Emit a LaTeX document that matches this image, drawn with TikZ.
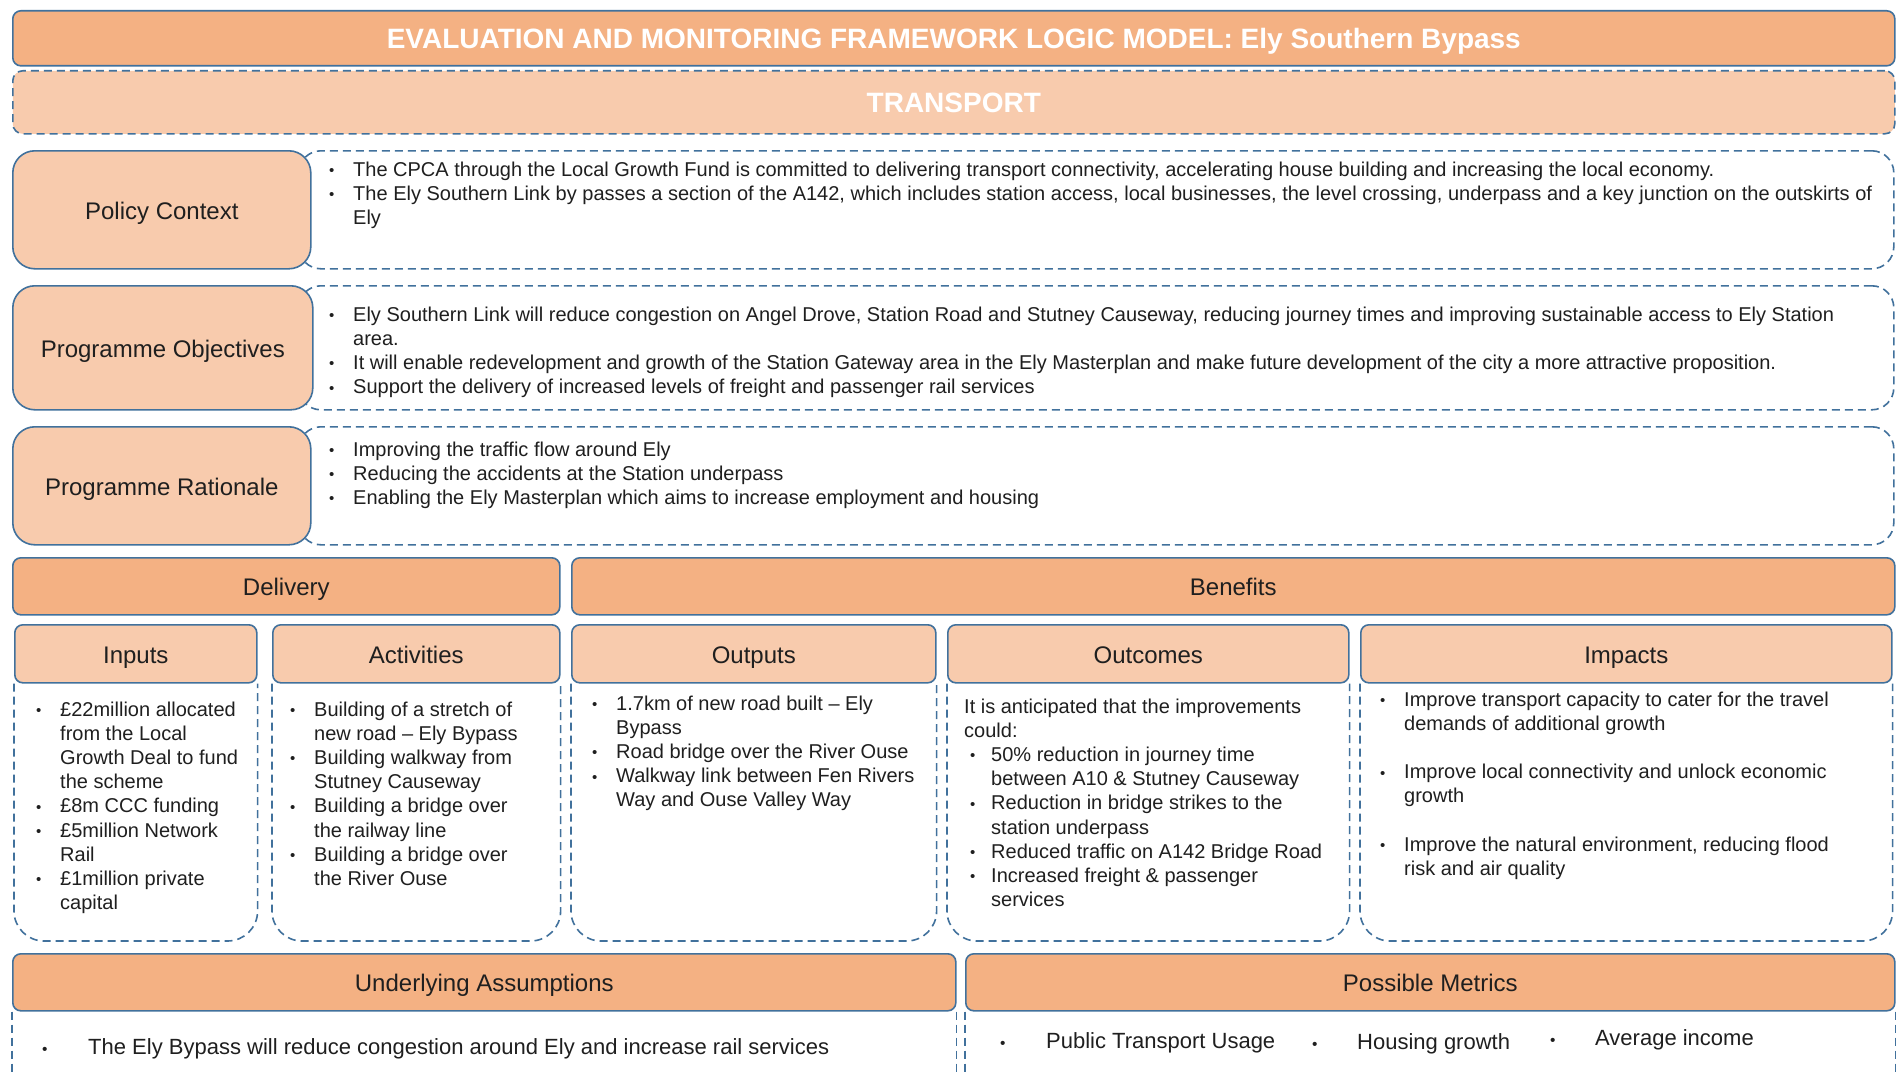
\documentclass[tikz,border=0pt]{standalone}
\usepackage{fontspec}
\usepackage{graphicx}
\setmainfont{Liberation Sans}
\definecolor{hdark}{HTML}{F4B183}
\definecolor{hlight}{HTML}{F8CBAD}
\definecolor{bline}{HTML}{41719C}
\definecolor{ink}{HTML}{1F1F1F}
\newlength\bind
\setlength\bind{24pt}
\newcommand\bul{\makebox[\bind][l]{\raisebox{0.5pt}{\scalebox{0.75}{•}}}}
\newcommand\bl[1]{\noindent\bul#1\par}
\newcommand\blo[1]{\noindent\hspace*{6pt}\makebox[21pt][l]{\raisebox{0.5pt}{\scalebox{0.75}{•}}}#1\par}
\newcommand\clo[1]{\noindent\hspace*{27pt}#1\par}
\newcommand\cl[1]{\noindent\hspace*{\bind}#1\par}
\newcommand\pl[1]{\noindent#1\par}
\newcommand\tb[2]{\parbox[t]{#1}{\fontsize{20}{24.2}\selectfont#2}}
\tikzset{
 solidhd/.style={draw=bline, line width=1.6pt, fill=hdark, rounded corners=8pt, inner sep=0pt, anchor=north west},
 solidlt/.style={draw=bline, line width=1.6pt, fill=hlight, rounded corners=8pt, inner sep=0pt, anchor=north west},
 labelbox/.style={solidlt, rounded corners=22pt},
 dsh/.style={draw=bline, line width=1.6pt, dash pattern=on 8pt off 5pt},
 dashrow/.style={dsh, rounded corners=22pt, inner sep=0pt, anchor=north west},
 hdtext/.style={font=\fontsize{24}{28}\selectfont, text=ink, text height=21pt, text depth=2pt},
 titletext/.style={font=\fontsize{28}{32}\selectfont\bfseries, text=white, text height=24pt, text depth=3pt},
 txt/.style={inner sep=0pt, anchor=base west, text=ink},
 bigtxt/.style={txt, font=\fontsize{22}{26}\selectfont},
}
\begin{document}
\begin{tikzpicture}[x=1pt,y=-1pt]
\useasboundingbox (0,0) rectangle (1896,1073);
\clip (0,0) rectangle (1896,1073);
\fill[white] (0,0) rectangle (1896,1073);

% title and transport
\node[solidhd, minimum width=1882pt, minimum height=55pt, titletext] (title) at (12,10) {EVALUATION AND MONITORING FRAMEWORK LOGIC MODEL: Ely Southern Bypass};
\node[dashrow, fill=hlight, rounded corners=10pt, minimum width=1882pt, minimum height=63pt, titletext] (transport) at (12,70) {TRANSPORT};

% rows
\node[dashrow, minimum width=1595pt, minimum height=118pt] (pcdash) at (298,150) {};
\node[labelbox, minimum width=298pt, minimum height=118pt, hdtext] (pc) at (12,150) {Policy Context};
\node[dashrow, minimum width=1595pt, minimum height=124pt] (podash) at (298,285) {};
\node[labelbox, minimum width=300pt, minimum height=124pt, hdtext] (po) at (12,285) {Programme Objectives};
\node[dashrow, minimum width=1595pt, minimum height=118pt] (prdash) at (298,426) {};
\node[labelbox, minimum width=298pt, minimum height=118pt, hdtext] (pr) at (12,426) {Programme Rationale};

\node[txt] (pctext) at (329,176) {\tb{1560pt}{%
\bl{The CPCA through the Local Growth Fund is committed to delivering transport connectivity, accelerating house building and increasing the local economy.}
\bl{\makebox[1519pt][s]{The Ely Southern Link by passes a section of the A142, which includes station access, local businesses, the level crossing, underpass and a key junction on the outskirts of}}
\cl{Ely}}};

\node[txt] (potext) at (329,321) {\tb{1560pt}{%
\bl{\makebox[1481pt][s]{Ely Southern Link will reduce congestion on Angel Drove, Station Road and Stutney Causeway, reducing journey times and improving sustainable access to Ely Station}}
\cl{area.}
\bl{It will enable redevelopment and growth of the Station Gateway area in the Ely Masterplan and make future development of the city a more attractive proposition.}
\bl{Support the delivery of increased levels of freight and passenger rail services}}};

\node[txt] (prtext) at (329,456) {\tb{1560pt}{%
\bl{Improving the traffic flow around Ely}
\bl{Reducing the accidents at the Station underpass}
\bl{Enabling the Ely Masterplan which aims to increase employment and housing}}};

% delivery / benefits
\node[solidhd, minimum width=547pt, minimum height=57pt, hdtext] (delivery) at (12,557) {Delivery};
\node[solidhd, minimum width=1323pt, minimum height=57pt, hdtext] (benefits) at (571,557) {Benefits};

\node[solidlt, minimum width=242pt, minimum height=58pt, hdtext] (inputs) at (14,624) {Inputs};
\node[solidlt, minimum width=287pt, minimum height=58pt, hdtext] (activities) at (272,624) {Activities};
\node[solidlt, minimum width=364pt, minimum height=58pt, hdtext] (outputs) at (571,624) {Outputs};
\node[solidlt, minimum width=401pt, minimum height=58pt, hdtext] (outcomes) at (947,624) {Outcomes};
\node[solidlt, minimum width=531pt, minimum height=58pt, hdtext] (impacts) at (1360,624) {Impacts};

\foreach \n in {inputs,activities,outputs,outcomes,impacts}{
 \draw[dsh, rounded corners=30pt] (\n.south west) -- (\n.south west |- 0,941) -- (\n.south east |- 0,941) -- (\n.south east);
}

\node[txt] (intext) at (36,716) {\tb{225pt}{%
\bl{£22million allocated}
\cl{from the Local}
\cl{Growth Deal to fund}
\cl{the scheme}
\bl{£8m CCC funding}
\bl{£5million Network}
\cl{Rail}
\bl{£1million private}
\cl{capital}}};

\node[txt] (actext) at (290,716) {\tb{265pt}{%
\bl{Building of a stretch of}
\cl{new road – Ely Bypass}
\bl{Building walkway from}
\cl{Stutney Causeway}
\bl{Building a bridge over}
\cl{the railway line}
\bl{Building a bridge over}
\cl{the River Ouse}}};

\node[txt] (outtext) at (592,710) {\tb{340pt}{%
\bl{1.7km of new road built – Ely}
\cl{Bypass}
\bl{Road bridge over the River Ouse}
\bl{Walkway link between Fen Rivers}
\cl{Way and Ouse Valley Way}}};

\node[txt] (octext) at (964,713) {\tb{380pt}{%
\pl{It is anticipated that the improvements}
\pl{could:}
\blo{50\% reduction in journey time}
\clo{between A10 \& Stutney Causeway}
\blo{Reduction in bridge strikes to the}
\clo{station underpass}
\blo{Reduced traffic on A142 Bridge Road}
\blo{Increased freight \& passenger}
\clo{services}}};

\node[txt] (imtext) at (1380,706) {\tb{505pt}{%
\bl{Improve transport capacity to cater for the travel}
\cl{demands of additional growth}
\pl{\mbox{}}
\bl{Improve local connectivity and unlock economic}
\cl{growth}
\pl{\mbox{}}
\bl{Improve the natural environment, reducing flood}
\cl{risk and air quality}}};

% bottom
\node[solidhd, minimum width=943pt, minimum height=57pt, hdtext] (assump) at (12,953) {Underlying Assumptions};
\node[solidhd, minimum width=929pt, minimum height=57pt, hdtext] (metrics) at (965,953) {Possible Metrics};
\draw[dsh] (assump.south west) -- (assump.south west |- 0,1100);
\draw[dsh] (assump.south east) -- (assump.south east |- 0,1100);
\draw[dsh] (metrics.south west) -- (metrics.south west |- 0,1100);
\draw[dsh] (metrics.south east) -- (metrics.south east |- 0,1100);

\node[bigtxt] (ab) at (42,1054) {\scalebox{0.7}{•}};
\node[bigtxt] (at) at (88,1054) {The Ely Bypass will reduce congestion around Ely and increase rail services};
\node[bigtxt] (mb1) at (1000,1048) {\scalebox{0.7}{•}};
\node[bigtxt] (mt1) at (1046,1048) {Public Transport Usage};
\node[bigtxt] (mb2) at (1312,1049) {\scalebox{0.7}{•}};
\node[bigtxt] (mt2) at (1357,1049) {Housing growth};
\node[bigtxt] (mb3) at (1550,1045) {\scalebox{0.7}{•}};
\node[bigtxt] (mt3) at (1595,1045) {Average income};
\end{tikzpicture}
\end{document}
